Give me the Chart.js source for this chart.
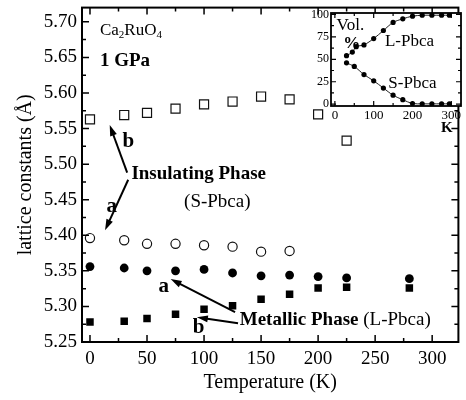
<!DOCTYPE html>
<html>
<head>
<meta charset="utf-8">
<script src="https://cdn.jsdelivr.net/npm/chart.js@4.4.1/dist/chart.umd.min.js"></script>
<style>
  html, body { margin: 0; padding: 0; background: #fff; }
  #wrap { position: relative; width: 466px; height: 400px; }
  #main { position: absolute; left: 0; top: 0; }
  #inset { position: absolute; left: 303px; top: 9px; }
</style>
</head>
<body>
<div id="wrap">
  <canvas id="main" width="466" height="400"></canvas>
  <canvas id="inset" width="163" height="127"></canvas>
</div>
<script>
const SERIF = '"Liberation Serif", "Times New Roman", serif';

// main panel: lattice constants vs temperature
const tempsInsB = [0, 30, 50, 75, 100, 125, 150, 175, 200, 225];
const bInsulating = [5.563, 5.569, 5.572, 5.578, 5.584, 5.588, 5.595, 5.591, 5.570, 5.533];
const tempsInsA = [0, 30, 50, 75, 100, 125, 150, 175];
const aInsulating = [5.396, 5.393, 5.388, 5.388, 5.386, 5.384, 5.377, 5.378];
const tempsMetal = [0, 30, 50, 75, 100, 125, 150, 175, 200, 225, 280];
const aMetallic = [5.356, 5.354, 5.350, 5.350, 5.352, 5.347, 5.343, 5.344, 5.342, 5.340, 5.339];
const bMetallic = [5.278, 5.279, 5.283, 5.289, 5.296, 5.301, 5.310, 5.317, 5.326, 5.327, 5.326];

// inset: volume fraction (%)
const insetTempL = [30, 45, 55, 75, 100, 125, 150, 175, 200, 225, 250, 275, 295];
const volL = [54, 58, 64, 66, 73, 82, 91, 95, 98, 99, 99, 99, 99];
const insetTempS = [30, 50, 75, 100, 125, 150, 175, 200, 225, 250, 275, 295];
const volS = [46, 42, 33, 26, 18, 10, 5, 0.8, 0.4, 0.4, 0.4, 0.4];

const pts = (xs, ys) => xs.map((x, i) => ({ x: x, y: ys[i] }));

// box frame with inward ticks on all four sides
const frameTicks = {
  id: 'frameTicks',
  afterDraw(chart, args, o) {
    const { ctx, chartArea: a, scales: { x, y } } = chart;
    ctx.save();
    ctx.strokeStyle = '#000';
    ctx.lineWidth = o.tickWidth;
    ctx.beginPath();
    const isMajor = (v, m) => Math.abs(v / m - Math.round(v / m)) < 1e-6;
    for (let i = Math.ceil(x.min / o.xMinor); i * o.xMinor <= x.max + 1e-9; i++) {
      const v = i * o.xMinor, p = x.getPixelForValue(v);
      const l = isMajor(v, o.xMajor) ? o.major : o.minor;
      ctx.moveTo(p, a.bottom); ctx.lineTo(p, a.bottom - l);
      ctx.moveTo(p, a.top); ctx.lineTo(p, a.top + l);
    }
    for (let i = Math.ceil(y.min / o.yMinor - 1e-6); i * o.yMinor <= y.max + 1e-9; i++) {
      const v = i * o.yMinor, p = y.getPixelForValue(v);
      const l = isMajor(v, o.yMajor) ? o.major : o.minor;
      ctx.moveTo(a.left, p); ctx.lineTo(a.left + l, p);
      ctx.moveTo(a.right, p); ctx.lineTo(a.right - l, p);
    }
    ctx.stroke();
    ctx.lineWidth = o.width;
    ctx.strokeRect(a.left, a.top, a.right - a.left, a.bottom - a.top);
    ctx.restore();
  }
};

// keep the plot box where it is: no extra room for overhanging tick labels
const noOverhang = s => { s.paddingTop = 0; s.paddingBottom = 0; s.paddingLeft = 0; s.paddingRight = 0; };

function arrow(ctx, x1, y1, x2, y2) {
  const ang = Math.atan2(y2 - y1, x2 - x1), c = Math.cos(ang), s = Math.sin(ang);
  const L = 11, W = 3.5;
  ctx.lineWidth = 2;
  ctx.beginPath();
  ctx.moveTo(x1, y1);
  ctx.lineTo(x2 - L * 0.8 * c, y2 - L * 0.8 * s);
  ctx.stroke();
  ctx.beginPath();
  ctx.moveTo(x2, y2);
  ctx.lineTo(x2 - L * c + W * s, y2 - L * s - W * c);
  ctx.lineTo(x2 - L * c - W * s, y2 - L * s + W * c);
  ctx.closePath();
  ctx.fill();
}

const mainNotes = {
  id: 'mainNotes',
  afterDraw(chart) {
    const { ctx, scales: { x, y } } = chart;
    const X = v => x.getPixelForValue(v), Y = v => y.getPixelForValue(v);
    ctx.save();
    ctx.fillStyle = '#000';
    ctx.strokeStyle = '#000';
    ctx.textBaseline = 'middle';
    ctx.textAlign = 'left';
    const put = (s, px, py, size, bold) => {
      ctx.font = (bold ? 'bold ' : '') + size + 'px ' + SERIF;
      ctx.fillText(s, px, py);
      return px + ctx.measureText(s).width;
    };
    // Ca2RuO4
    let cx = X(8.7), cy = Y(5.688);
    cx = put('Ca', cx, cy, 17);
    cx = put('2', cx, cy + 5, 11);
    cx = put('RuO', cx, cy, 17);
    put('4', cx, cy + 5, 11);
    put('1 GPa', X(8.7), Y(5.645), 19, true);

    put('b', X(28.5), Y(5.531), 21, true);
    put('a', X(14.5), Y(5.441), 21, true);
    put('Insulating Phase', X(36.3), Y(5.486), 19, true);
    put('(S-Pbca)', X(82.5), Y(5.447), 19, false);

    put('a', X(60), Y(5.328), 21, true);
    put('b', X(90), Y(5.270), 21, true);
    const mx = put('Metallic Phase', X(131.3), Y(5.281), 19, true);
    put(' (L-Pbca)', mx, Y(5.281), 19, false);

    arrow(ctx, X(32.6), Y(5.488), X(17.3), Y(5.555));
    arrow(ctx, X(33.5), Y(5.478), X(13.2), Y(5.407));
    arrow(ctx, X(127.2), Y(5.292), X(70.7), Y(5.3385));
    arrow(ctx, X(129.8), Y(5.2763), X(93.7), Y(5.2847));
    ctx.restore();
  }
};

new Chart(document.getElementById('main'), {
  type: 'scatter',
  data: {
    datasets: [
      { label: 'b insulating', data: pts(tempsInsB, bInsulating), pointStyle: 'rect', pointRadius: 6.4,
        backgroundColor: 'rgba(0,0,0,0)', borderColor: '#111', borderWidth: 1.2 },
      { label: 'a insulating', data: pts(tempsInsA, aInsulating), pointStyle: 'circle', pointRadius: 4.6,
        backgroundColor: 'rgba(0,0,0,0)', borderColor: '#111', borderWidth: 1.2 },
      { label: 'a metallic', data: pts(tempsMetal, aMetallic), pointStyle: 'circle', pointRadius: 4.4,
        backgroundColor: '#000', borderColor: '#000', borderWidth: 0 },
      { label: 'b metallic', data: pts(tempsMetal, bMetallic), pointStyle: 'rect', pointRadius: 5.3,
        backgroundColor: '#000', borderColor: '#000', borderWidth: 0 }
    ]
  },
  options: {
    responsive: false,
    animation: false,
    events: [],
    layout: { padding: { top: 7, right: 3, left: 0, bottom: 0 } },
    plugins: {
      legend: { display: false },
      tooltip: { enabled: false },
      frameTicks: { width: 2, tickWidth: 1.5, major: 7, minor: 4, xMajor: 50, xMinor: 25, yMajor: 0.05, yMinor: 0.025 }
    },
    scales: {
      x: {
        type: 'linear', min: -7, max: 323,
        grid: { display: false, drawTicks: false },
        border: { display: false },
        ticks: { stepSize: 50, includeBounds: false, padding: 6, color: '#000', font: { family: SERIF, size: 19 } },
        title: { display: true, text: 'Temperature (K)', color: '#000', font: { family: SERIF, size: 20 }, padding: { top: 0, bottom: 5 } },
        afterFit(s) { s.height = 58; noOverhang(s); }
      },
      y: {
        type: 'linear', min: 5.25, max: 5.72,
        grid: { display: false, drawTicks: false },
        border: { display: false },
        ticks: { stepSize: 0.05, includeBounds: false, padding: 5, color: '#000', font: { family: SERIF, size: 19 },
                 callback: v => v.toFixed(2) },
        title: { display: true, text: 'lattice constants (Å)', color: '#000', font: { family: SERIF, size: 20 }, padding: { top: 14, bottom: 0 } },
        afterFit(s) { s.width = 82; noOverhang(s); }
      }
    }
  },
  plugins: [frameTicks, mainNotes]
});

const insetNotes = {
  id: 'insetNotes',
  beforeDraw(chart) {
    const { ctx, chartArea: a } = chart;
    ctx.save();
    ctx.fillStyle = '#fff';
    ctx.fillRect(a.left, a.top, a.right - a.left, a.bottom - a.top);
    ctx.restore();
  },
  afterDraw(chart) {
    const { ctx, scales: { x, y } } = chart;
    const X = v => x.getPixelForValue(v), Y = v => y.getPixelForValue(v);
    ctx.save();
    ctx.fillStyle = '#000';
    ctx.textBaseline = 'middle';
    ctx.textAlign = 'left';
    ctx.font = '17px ' + SERIF;
    ctx.fillText('Vol.', X(4.4), Y(88));
    ctx.fillText('L-Pbca', X(129), Y(69.6));
    ctx.fillText('S-Pbca', X(137.7), Y(23.3));
    ctx.font = 'bold 17px ' + SERIF;
    ctx.fillText('%', X(21.5), Y(67.8));
    ctx.textAlign = 'center';
    ctx.font = 'bold 15px ' + SERIF;
    ctx.fillText('K', X(288.6), Y(-26.3));
    ctx.restore();
  }
};

new Chart(document.getElementById('inset'), {
  type: 'scatter',
  data: {
    datasets: [
      { label: 'L-Pbca', data: pts(insetTempL, volL), showLine: true, tension: 0.3,
        borderColor: '#222', borderWidth: 1, pointRadius: 2.6, backgroundColor: '#000', pointBorderWidth: 0 },
      { label: 'S-Pbca', data: pts(insetTempS, volS), showLine: true, tension: 0.3,
        borderColor: '#222', borderWidth: 1, pointRadius: 2.6, backgroundColor: '#000', pointBorderWidth: 0 }
    ]
  },
  options: {
    responsive: false,
    animation: false,
    events: [],
    layout: { padding: { top: 4, right: 5, left: 0, bottom: 0 } },
    plugins: {
      legend: { display: false },
      tooltip: { enabled: false },
      frameTicks: { width: 1.8, tickWidth: 1.2, major: 5, minor: 3, xMajor: 100, xMinor: 50, yMajor: 25, yMinor: 12.5 }
    },
    scales: {
      x: {
        type: 'linear', min: -10, max: 325,
        grid: { display: false, drawTicks: false },
        border: { display: false },
        ticks: { stepSize: 100, includeBounds: false, padding: 2, color: '#000', maxRotation: 0, font: { family: SERIF, size: 13 } },
        afterFit(s) { s.height = 30; noOverhang(s); }
      },
      y: {
        type: 'linear', min: -2, max: 101.5,
        grid: { display: false, drawTicks: false },
        border: { display: false },
        ticks: { stepSize: 25, includeBounds: false, padding: 2, color: '#000', font: { family: SERIF, size: 12 } },
        afterFit(s) { s.width = 28; noOverhang(s); }
      }
    }
  },
  plugins: [frameTicks, insetNotes]
});
</script>
</body>
</html>
